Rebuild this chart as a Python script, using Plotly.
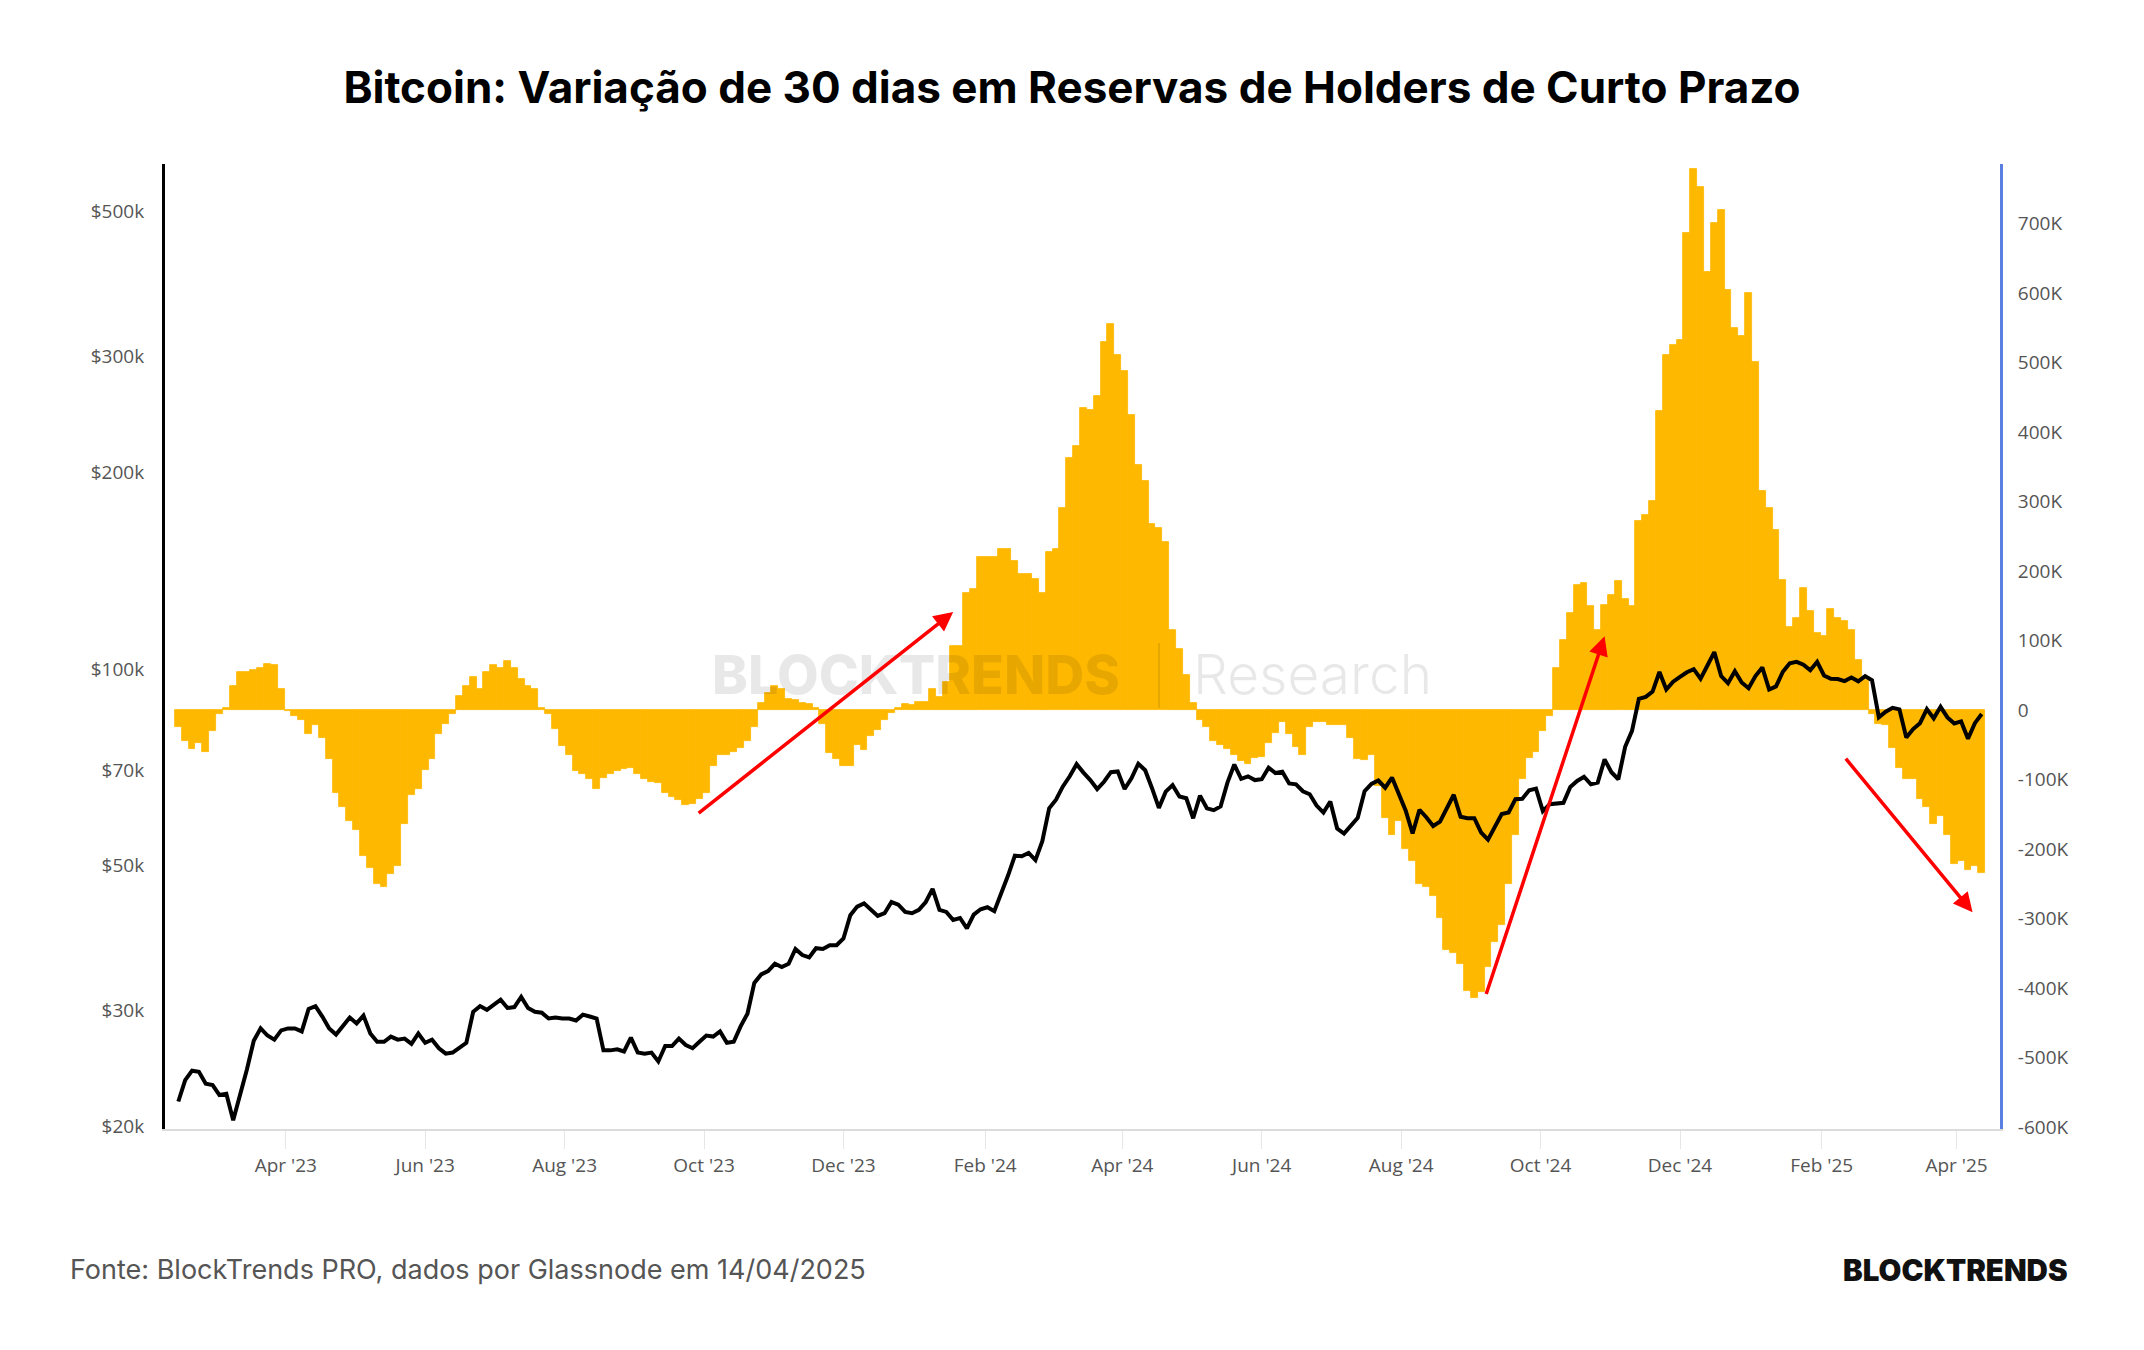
import pandas as pd
import plotly.graph_objects as go

# ---------------- data (sampled every 3 days from 2023-02-13) ----------------
START_DATE = "2023-02-13"
STEP = "3D"

# BTC price, thousands of USD (left, log axis)
price_k = [
    # Feb 13 - Mar 30 2023
    21.8, 23.5, 24.3, 24.2, 23.2, 23.1, 22.3, 22.4, 20.4, 22.2, 24.4, 27.0, 28.2, 27.5, 27.1, 28.0,
    # Apr 2 - May 29 2023
    28.2, 28.2, 27.9, 30.2, 30.5, 29.4, 28.2, 27.6, 28.4, 29.3, 28.7, 29.5, 27.7, 26.9, 26.9, 27.4, 27.1, 27.2, 26.7, 27.7,
    # Jun 1 - Jul 31 2023
    26.8, 27.1, 26.3, 25.8, 25.9, 26.3, 26.8, 29.9, 30.5, 30.1, 30.6, 31.2, 30.3, 30.4, 31.5, 30.3, 29.9, 29.8, 29.2, 29.3, 29.2,
    # Aug 3 - Sep 29 2023
    29.2, 29.0, 29.6, 29.4, 29.2, 26.1, 26.1, 26.2, 26.0, 27.3, 25.9, 25.8, 25.9, 25.1, 26.5, 26.5, 27.2, 26.6, 26.3, 26.9,
    # Oct 2 - Nov 28 2023
    27.5, 27.4, 27.9, 26.8, 26.9, 28.4, 29.7, 33.1, 34.1, 34.5, 35.4, 35.0, 35.4, 37.3, 36.5, 36.2, 37.4, 37.3, 37.8, 37.8,
    # Dec 1 - Dec 31 2023
    38.7, 42.0, 43.3, 43.8, 42.9, 41.9, 42.3, 44.0, 43.6, 42.5, 42.3,
    # Jan 3 - Feb 29 2024
    42.8, 44.0, 46.1, 42.8, 42.5, 41.3, 41.6, 40.1, 42.1, 42.9, 43.2, 42.6, 45.3, 48.3, 51.8, 51.7, 52.3, 51.0, 54.5, 61.2,
    # Mar 3 - Apr 29 2024
    63.1, 66.1, 68.5, 71.5, 69.4, 67.6, 65.5, 67.2, 69.5, 69.7, 65.5, 68.0, 71.6, 70.0, 65.7, 61.3, 64.9, 66.4, 63.8, 63.4,
    # May 2 - Jun 28 2024
    59.1, 64.0, 61.2, 60.8, 61.6, 67.0, 71.4, 67.9, 68.5, 67.6, 67.8, 70.6, 69.3, 69.6, 66.8, 66.6, 65.0, 64.3, 61.8, 60.3,
    # Jul 1 - Aug 30 2024
    62.7, 57.0, 56.0, 57.7, 59.2, 65.0, 66.7, 67.5, 65.8, 68.2, 64.6, 60.7, 56.0, 60.9, 59.3, 57.5, 58.4, 61.2, 64.2, 59.4, 59.1,
    # Sep 2 - Oct 29 2024
    59.1, 56.2, 54.8, 57.3, 60.0, 60.3, 63.2, 63.3, 65.2, 65.6, 60.6, 62.1, 62.2, 62.4, 66.0, 67.4, 68.4, 66.6, 67.0, 72.7,
    # Nov 1 - Dec 31 2024
    69.5, 67.8, 76.0, 80.4, 90.0, 90.6, 92.3, 98.9, 93.0, 95.6, 97.2, 98.8, 99.9, 96.6, 101.2, 106.1, 97.5, 95.1, 99.2, 95.3, 93.4,
    # Jan 3 - Feb 26 2025
    97.5, 100.5, 93.0, 94.0, 99.0, 102.0, 102.5, 101.5, 99.5, 102.5, 97.7, 96.6, 96.5, 95.8, 97.0, 95.7, 97.5, 96.1, 84.3,
    # Mar 1 - Apr 12 2025
    86.0, 87.2, 86.7, 78.5, 80.9, 82.6, 86.8, 84.0, 87.5, 84.3, 82.5, 83.1, 78.2, 82.6, 85.3,
]

# 30-day change in short-term holder reserves, thousands of BTC (right axis)
reserve_k = [
    # Feb 13 - Mar 30 2023
    -24, -45, -56, -47, -60, -30, -6, 3, 34, 54, 55, 57, 60, 66, 64, 30,
    # Apr 2 - May 29 2023
    -2, -8, -15, -35, -22, -40, -70, -119, -140, -160, -173, -210, -227, -250, -255, -236, -225, -164, -123, -114,
    # Jun 1 - Jul 31 2023
    -87, -70, -35, -20, -6, 20, 34, 48, 30, 55, 65, 61, 70, 61, 45, 35, 30, 3, -6, -28, -52,
    # Aug 3 - Sep 29 2023
    -65, -88, -92, -100, -114, -98, -92, -88, -85, -83, -92, -100, -103, -105, -119, -125, -130, -137, -135, -128,
    # Oct 2 - Nov 28 2023
    -119, -80, -65, -65, -60, -55, -45, -24, 10, 25, 35, 30, 16, 14, 10, 8, 3, -20, -62, -70,
    # Dec 1 - Dec 31 2023
    -80, -80, -50, -57, -38, -29, -15, -5, 3, 9, 7,
    # Jan 3 - Feb 29 2024
    12, 12, 30, 18, 40, 92, 92, 169, 174, 220, 220, 220, 232, 232, 214, 196, 195, 188, 169, 228,
    # Mar 3 - Apr 29 2024
    232, 290, 362, 380, 435, 432, 452, 530, 555, 511, 488, 425, 353, 330, 268, 262, 241, 115, 88, 50,
    # May 2 - Jun 28 2024
    10, -15, -25, -45, -50, -56, -65, -74, -78, -69, -67, -47, -33, -18, -35, -53, -65, -24, -18, -18,
    # Jul 1 - Aug 30 2024
    -22, -22, -22, -40, -70, -72, -65, -110, -155, -180, -160, -200, -218, -250, -255, -268, -300, -345, -350, -365, -405,
    # Sep 2 - Oct 29 2024
    -415, -406, -370, -334, -310, -250, -180, -100, -69, -60, -30, -9, 61, 100, 140, 180, 182, 150, 115, 151,
    # Nov 1 - Dec 31 2024
    165, 185, 160, 150, 272, 280, 300, 430, 511, 525, 533, 686, 778, 753, 630, 700, 720, 605, 550, 538, 600,
    # Jan 3 - Feb 26 2025
    500, 315, 290, 259, 187, 120, 133, 175, 142, 111, 106, 145, 133, 128, 115, 72, 43, -6, -20,
    # Mar 1 - Apr 12 2025
    -22, -55, -83, -100, -100, -128, -140, -164, -152, -180, -222, -217, -231, -225, -235,
]

PRICE_TICKS = [20000, 30000, 50000, 70000, 100000, 200000, 300000, 500000]
PRICE_TICK_TEXT = ["$20k", "$30k", "$50k", "$70k", "$100k", "$200k", "$300k", "$500k"]

RESERVE_TICKS = [-600000, -500000, -400000, -300000, -200000, -100000, 0,
                 100000, 200000, 300000, 400000, 500000, 600000, 700000]
RESERVE_TICK_TEXT = ["-600K", "-500K", "-400K", "-300K", "-200K", "-100K", "0",
                     "100K", "200K", "300K", "400K", "500K", "600K", "700K"]

DATE_TICKS = ["2023-04-01", "2023-06-01", "2023-08-01", "2023-10-01", "2023-12-01",
              "2024-02-01", "2024-04-01", "2024-06-01", "2024-08-01", "2024-10-01",
              "2024-12-01", "2025-02-01", "2025-04-01"]
DATE_TICK_TEXT = ["Apr '23", "Jun '23", "Aug '23", "Oct '23", "Dec '23", "Feb '24", "Apr '24",
                  "Jun '24", "Aug '24", "Oct '24", "Dec '24", "Feb '25", "Apr '25"]

# red trend arrows: (tail date, tail value K, head date, head value K)
ARROWS = [
    ("2023-09-28", -150, "2024-01-18", 141),
    ("2024-09-07", -411, "2024-10-29", 106),
    ("2025-02-11", -68, "2025-04-08", -291),
]

TITLE = "Bitcoin: Variação de 30 dias em Reservas de Holders de Curto Prazo"
SOURCE = "Fonte: BlockTrends PRO, dados por Glassnode em 14/04/2025"

# ---------------- figure ----------------
dates = pd.date_range(START_DATE, periods=len(price_k), freq=STEP)
ORANGE = "#FFB800"
DAY_MS = 86400000

fig = go.Figure()
fig.add_trace(go.Bar(
    x=dates, y=[v * 1000 for v in reserve_k], yaxis="y",
    width=3 * DAY_MS,
    marker=dict(color=ORANGE, line=dict(width=0.8, color=ORANGE)),
    hoverinfo="skip",
))
fig.add_trace(go.Scatter(
    x=dates, y=[p * 1000 for p in price_k], yaxis="y2",
    mode="lines", line=dict(color="#000000", width=4),
))

tick_font = dict(family="Open Sans", size=19, color="#555555")

fig.update_layout(
    width=2144, height=1350,
    margin=dict(l=165, r=144, t=164, b=221, autoexpand=False),
    paper_bgcolor="white", plot_bgcolor="white",
    showlegend=False, bargap=0,
    title=dict(text=TITLE, x=0.5, xanchor="center", xref="container",
               y=1 - 88 / 1350, yanchor="middle", yref="container",
               font=dict(family="Inter", size=44, color="#000000", weight=700)),
    xaxis=dict(
        type="date", range=["2023-02-07 04:00", "2025-04-20"],
        tickvals=DATE_TICKS, ticktext=DATE_TICK_TEXT,
        ticks="outside", ticklen=18, tickwidth=1, tickcolor="#e6e6e6",
        showline=True, linecolor="#dcdcdc", linewidth=2,
        showgrid=False, zeroline=False, tickfont=tick_font,
    ),
    yaxis=dict(
        side="right", range=[-603000, 785600],
        tickvals=RESERVE_TICKS, ticktext=RESERVE_TICK_TEXT,
        showline=True, linecolor="#5A7FE0", linewidth=3,
        showgrid=False, zeroline=False, ticks="",
        tickfont=tick_font, ticklabelstandoff=11,
    ),
    yaxis2=dict(
        overlaying="y", side="left", type="log", range=[4.2964, 5.772],
        tickvals=PRICE_TICKS, ticktext=PRICE_TICK_TEXT,
        showline=True, linecolor="#000000", linewidth=3,
        showgrid=False, zeroline=False, ticks="",
        tickfont=tick_font, ticklabelstandoff=14,
    ),
)

WM = "rgba(0,0,0,0.09)"
annotations = [
    dict(text="BLOCKTRENDS", xref="paper", yref="paper", x=0.4095, y=0.4715,
         xanchor="center", yanchor="middle", showarrow=False,
         font=dict(family="Inter", size=54, color=WM, weight=800)),
    dict(text="Research", xref="paper", yref="paper", x=0.6256, y=0.4715,
         xanchor="center", yanchor="middle", showarrow=False,
         font=dict(family="Inter", size=55, color=WM, weight=300)),
    dict(text=SOURCE, xref="paper", yref="paper", x=-0.0529, y=-0.1461,
         xanchor="left", yanchor="middle", showarrow=False,
         font=dict(family="Inter", size=27, color="#555555")),
    dict(text="BLOCKTRENDS", xref="paper", yref="paper", x=1.0381, y=-0.1461,
         xanchor="right", yanchor="middle", showarrow=False,
         font=dict(family="Inter", size=29.5, color="#111111", weight=900)),
]
for t_date, t_val, h_date, h_val in ARROWS:
    annotations.append(dict(
        x=h_date, y=h_val * 1000, ax=t_date, ay=t_val * 1000,
        xref="x", yref="y", axref="x", ayref="y",
        text="", showarrow=True, arrowhead=2, arrowsize=1.1,
        arrowwidth=3.5, arrowcolor="#FF0000", standoff=0,
    ))
fig.update_layout(annotations=annotations)

fig.add_shape(type="line", xref="paper", yref="paper",
              x0=0.5417, x1=0.5417, y0=0.4363, y1=0.5036,
              line=dict(color=WM, width=2), layer="above")

fig.write_html("out.html")
